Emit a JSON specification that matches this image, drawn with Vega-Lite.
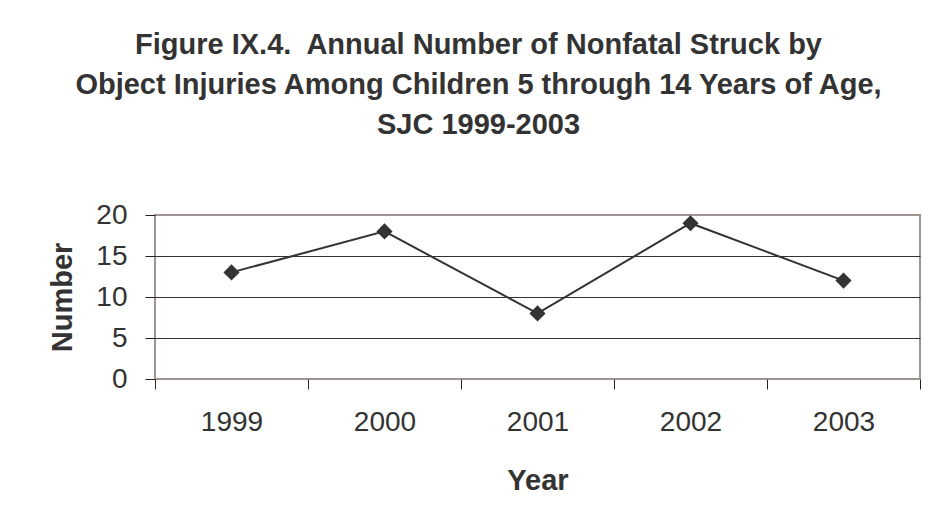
{
  "$schema": "https://vega.github.io/schema/vega-lite/v6.json",
  "autosize": "none",
  "width": 765,
  "height": 164,
  "padding": {"left": 155, "top": 215, "right": 13, "bottom": 152},
  "background": "white",
  "title": {
    "text": ["Figure IX.4.\u00a0 Annual Number of Nonfatal Struck by", "Object Injuries Among Children 5 through 14 Years of Age,", "SJC 1999-2003"],
    "font": "Liberation Sans",
    "fontSize": 29,
    "fontWeight": "bold",
    "color": "#333333",
    "lineHeight": 40,
    "anchor": "middle",
    "dx": -59,
    "baseline": "alphabetic",
    "offset": 38
  },
  "data": {
    "values": [
      {"Year": "1999", "Number": 13},
      {"Year": "2000", "Number": 18},
      {"Year": "2001", "Number": 8},
      {"Year": "2002", "Number": 19},
      {"Year": "2003", "Number": 12}
    ]
  },
  "mark": {"type": "line", "color": "#333333", "strokeWidth": 2, "point": {"shape": "diamond", "size": 260, "filled": true, "color": "#333333", "opacity": 1}},
  "encoding": {
    "x": {
      "field": "Year",
      "type": "ordinal",
      "scale": {"paddingInner": 0, "paddingOuter": 0},
      "axis": {
        "title": "Year",
        "labelAngle": 0,
        "tickBand": "extent",
        "grid": false,
        "domain": false,
        "ticks": true,
        "tickColor": "#222222",
        "tickSize": 10,
        "tickWidth": 1,
        "labelPadding": 19,
        "labelFont": "Liberation Sans",
        "labelFontSize": 28,
        "labelColor": "#333333",
        "titleFont": "Liberation Sans",
        "titleFontSize": 29,
        "titleFontWeight": "bold",
        "titleColor": "#333333",
        "titlePadding": 30
      }
    },
    "y": {
      "field": "Number",
      "type": "quantitative",
      "scale": {"domain": [0, 20], "nice": false},
      "axis": {
        "title": "Number",
        "values": [0, 5, 10, 15, 20],
        "grid": true,
        "gridColor": {"condition": {"test": "datum.value == 0 || datum.value == 20", "value": "transparent"}, "value": "#333333"},
        "gridWidth": 1,
        "domain": false,
        "tickColor": "#222222",
        "tickSize": 10,
        "tickWidth": 1,
        "labelPadding": 18,
        "labelFont": "Liberation Sans",
        "labelFontSize": 28,
        "labelColor": "#333333",
        "titleFont": "Liberation Sans",
        "titleFontSize": 29,
        "titleFontWeight": "bold",
        "titleColor": "#333333",
        "titlePadding": 18
      }
    }
  },
  "config": {
    "view": {"stroke": "#9e9590", "strokeWidth": 2}
  }
}
